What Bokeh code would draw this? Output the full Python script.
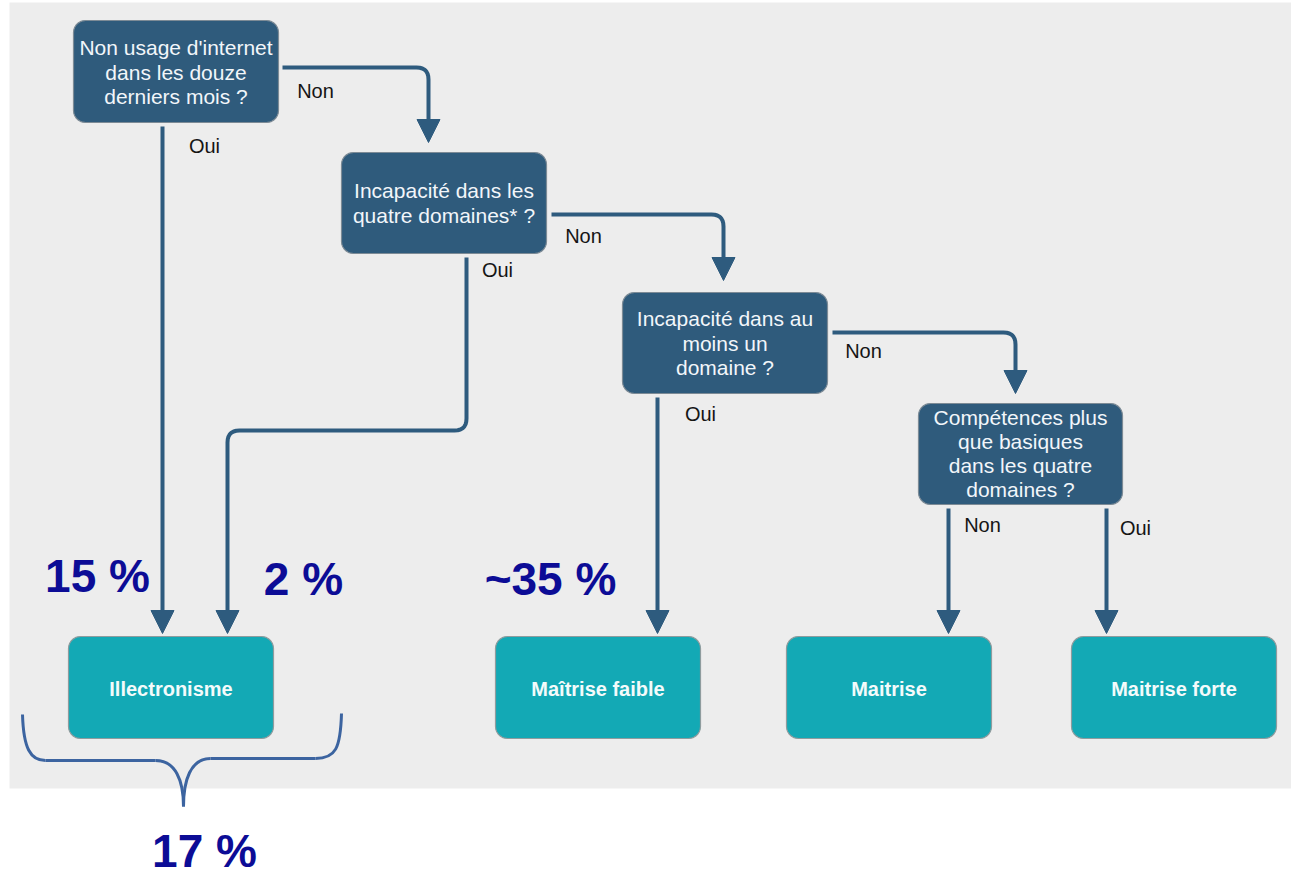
import numpy as np
from bokeh.plotting import figure
from bokeh.models import Range1d
from bokeh.core.properties import value
from bokeh.embed import file_html
from bokeh.resources import INLINE

# ---------------- data ----------------
questions = [
    ["Non usage d'internet", "dans les douze", "derniers mois ?"],
    ["Incapacité dans les", "quatre domaines* ?"],
    ["Incapacité dans au", "moins un", "domaine ?"],
    ["Compétences plus", "que basiques", "dans les quatre", "domaines ?"],
]
outcomes = ["Illectronisme", "Maîtrise faible", "Maitrise", "Maitrise forte"]
branch_labels = ["Non", "Oui", "Non", "Oui", "Non", "Oui", "Non", "Oui"]
shares = ["15 %", "2 %", "~35 %", "17 %"]

# ---------------- layout (screen-pixel coordinates) ----------------
q_boxes = [(73, 20, 278, 122), (341, 152, 546, 253), (622, 292, 827, 393), (918, 403, 1122, 504)]
q_line_y = [[47, 72, 96], [190, 215], [318, 343, 367], [417, 441, 465, 489]]
o_boxes = [(68, 636, 273, 738), (495, 636, 700, 738), (786, 636, 991, 738), (1071, 636, 1276, 738)]
label_pos = [(315, 90), (204, 145), (583, 235), (497, 269), (863, 350), (700, 413), (982, 524), (1135, 527)]
share_pos = [(97, 575), (303, 578), (550, 578), (204, 850)]

DARK = "#2f5b7c"
TEAL = "#13a9b5"
LINE = "#2e5b7e"
BG = "#ededed"
PCT = "#0c0c96"
BRACE = "#3c64a0"

W, H = 1291, 878
p = figure(width=W, height=H, x_range=Range1d(0, W), y_range=Range1d(H, 0),
           output_backend="svg", toolbar_location=None, min_border=0)
p.axis.visible = False
p.xgrid.visible = False
p.ygrid.visible = False
p.outline_line_color = None
p.background_fill_color = "white"
p.border_fill_color = "white"

# grey panel
p.quad(left=[9], right=[1291], top=[2], bottom=[788], fill_color=BG, line_color=None)


def rrect(x0, y0, x1, y1, r=12, n=8):
    xs, ys = [], []
    corners = [(x1 - r, y0 + r, -np.pi / 2, 0), (x1 - r, y1 - r, 0, np.pi / 2),
               (x0 + r, y1 - r, np.pi / 2, np.pi), (x0 + r, y0 + r, np.pi, 1.5 * np.pi)]
    for cx, cy, a0, a1 in corners:
        t = np.linspace(a0, a1, n)
        xs.extend(cx + r * np.cos(t))
        ys.extend(cy + r * np.sin(t))
    return xs, ys


def rounded_path(pts, r=12, n=8):
    """polyline with rounded corners"""
    xs, ys = [pts[0][0]], [pts[0][1]]
    for i in range(1, len(pts) - 1):
        p0, p1, p2 = np.array(pts[i - 1], float), np.array(pts[i], float), np.array(pts[i + 1], float)
        d1 = (p1 - p0) / np.linalg.norm(p1 - p0)
        d2 = (p2 - p1) / np.linalg.norm(p2 - p1)
        a = p1 - d1 * r
        b = p1 + d2 * r
        for t in np.linspace(0, 1, n):
            q = (1 - t) ** 2 * a + 2 * (1 - t) * t * p1 + t ** 2 * b
            xs.append(q[0]); ys.append(q[1])
    xs.append(pts[-1][0]); ys.append(pts[-1][1])
    return xs, ys


# connectors (line ends at arrow-head top; head tip given separately)
paths = [
    [(282, 67), (428, 67), (428, 121)],
    [(162, 126), (162, 612)],
    [(551, 214), (723, 214), (723, 259)],
    [(466, 257), (466, 430), (227, 430), (227, 612)],
    [(832, 332), (1015, 332), (1015, 372)],
    [(657, 397), (657, 612)],
    [(948, 508), (948, 612)],
    [(1106, 508), (1106, 612)],
]
tips = [(428, 142), (162, 633), (723, 280), (227, 633), (1015, 393), (657, 633), (948, 633), (1106, 633)]

mx, my = [], []
for pt in paths:
    xs, ys = rounded_path(pt)
    mx.append(xs); my.append(ys)
p.multi_line(xs=mx, ys=my, line_color=LINE, line_width=4)

hx, hy = [], []
for tx, ty in tips:
    hx.append([tx - 11.5, tx + 11.5, tx])
    hy.append([ty - 23, ty - 23, ty])
p.patches(xs=hx, ys=hy, fill_color=LINE, line_color=LINE, line_width=1)

# question boxes
bx, by = [], []
for b in q_boxes:
    xs, ys = rrect(*b)
    bx.append(xs); by.append(ys)
p.patches(xs=bx, ys=by, fill_color=DARK, line_color="#7d8b96", line_width=1.2)

tx_, ty_, tt_ = [], [], []
for b, lines, ly in zip(q_boxes, questions, q_line_y):
    for s, y in zip(lines, ly):
        tx_.append((b[0] + b[2]) / 2); ty_.append(y); tt_.append(s)
p.text(x=tx_, y=ty_, text=tt_, text_align="center", text_baseline="middle",
       text_font=value("Liberation Sans"), text_font_size="21px", text_color="#f2f6fa")

# outcome boxes
ox, oy = [], []
for b in o_boxes:
    xs, ys = rrect(*b)
    ox.append(xs); oy.append(ys)
p.patches(xs=ox, ys=oy, fill_color=TEAL, line_color="#8f9c9e", line_width=1.2)
p.text(x=[(b[0] + b[2]) / 2 for b in o_boxes], y=[688] * len(o_boxes), text=outcomes,
       text_align="center", text_baseline="middle", text_font=value("Liberation Sans"),
       text_font_style="bold", text_font_size="20px", text_color="#f4fbfb")

# branch labels
p.text(x=[q[0] for q in label_pos], y=[q[1] for q in label_pos], text=branch_labels,
       text_align="center", text_baseline="middle", text_font=value("Liberation Sans"),
       text_font_size="20px", text_color="#151515")

# shares
p.text(x=[q[0] for q in share_pos], y=[q[1] for q in share_pos], text=shares,
       text_align="center", text_baseline="middle", text_font=value("Liberation Sans"),
       text_font_style="bold", text_font_size="46px", text_color=PCT)

# brace under Illectronisme
p.bezier(x0=[22, 155, 183, 315], y0=[714, 760, 806, 758],
         x1=[45, 183, 210, 341], y1=[760, 806, 758, 713],
         cx0=[23, 175, 183, 335], cy0=[748, 760, 780, 758],
         cx1=[30, 183, 190, 340], cy1=[760, 780, 758, 748],
         line_color=BRACE, line_width=3)
p.segment(x0=[45, 210], y0=[760, 758], x1=[155, 315], y1=[760, 758], line_color=BRACE, line_width=3)

open("out.html", "w").write(file_html(p, INLINE))
